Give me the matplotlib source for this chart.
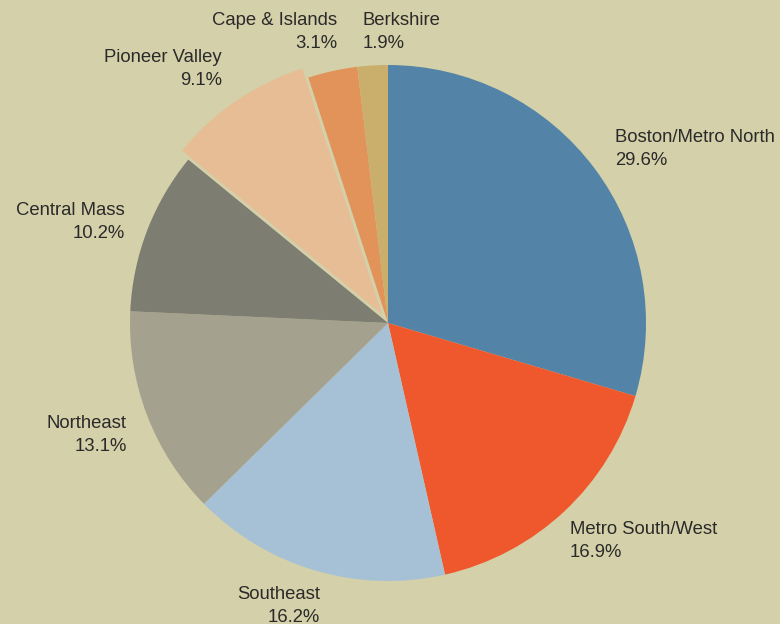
import matplotlib.pyplot as plt

# Data
regions = ["Boston/Metro North", "Metro South/West", "Southeast", "Northeast",
           "Central Mass", "Pioneer Valley", "Cape & Islands", "Berkshire"]
shares = [29.6, 16.9, 16.2, 13.1, 10.2, 9.1, 3.1, 1.9]
colors = ["#5383A6", "#EF582D", "#A6C1D6", "#A4A18F",
          "#7D7D71", "#E6BD94", "#E2935A", "#C9AE6C"]
explode = [0, 0, 0, 0, 0, 11, 0, 0]  # data units (pixels)

# label centre (pixel coords, y from top) and alignment
label_pos = {
    "Boston/Metro North": (615, 149, "left"),
    "Metro South/West": (570, 541, "left"),
    "Southeast": (320, 606, "right"),
    "Northeast": (127, 435, "right"),
    "Central Mass": (125, 222, "right"),
    "Pioneer Valley": (222, 69, "right"),
    "Cape & Islands": (337, 32, "right"),
    "Berkshire": (363, 32, "left"),
}

bg = "#D4D0A9"
W, H = 780, 624

fig = plt.figure(figsize=(7.8, 6.24), dpi=100, facecolor=bg)
ax = fig.add_axes([0, 0, 1, 1])
ax.set_facecolor(bg)

ax.pie(shares, colors=colors, explode=explode, startangle=90, counterclock=False,
       center=(388, H - 323), radius=258, frame=True,
       wedgeprops=dict(linewidth=0))
ax.set_xlim(0, W)
ax.set_ylim(0, H)
ax.set_aspect("equal")
ax.axis("off")

for name, val in zip(regions, shares):
    x, y, ha = label_pos[name]
    ax.text(x, H - y, f"{name}\n{val:.1f}%", ha=ha, va="center",
            fontsize=13.3, family="Liberation Sans", color="#2a2a2a",
            linespacing=1.45, multialignment=ha)

fig.savefig("out.png", dpi=100, facecolor=bg)
